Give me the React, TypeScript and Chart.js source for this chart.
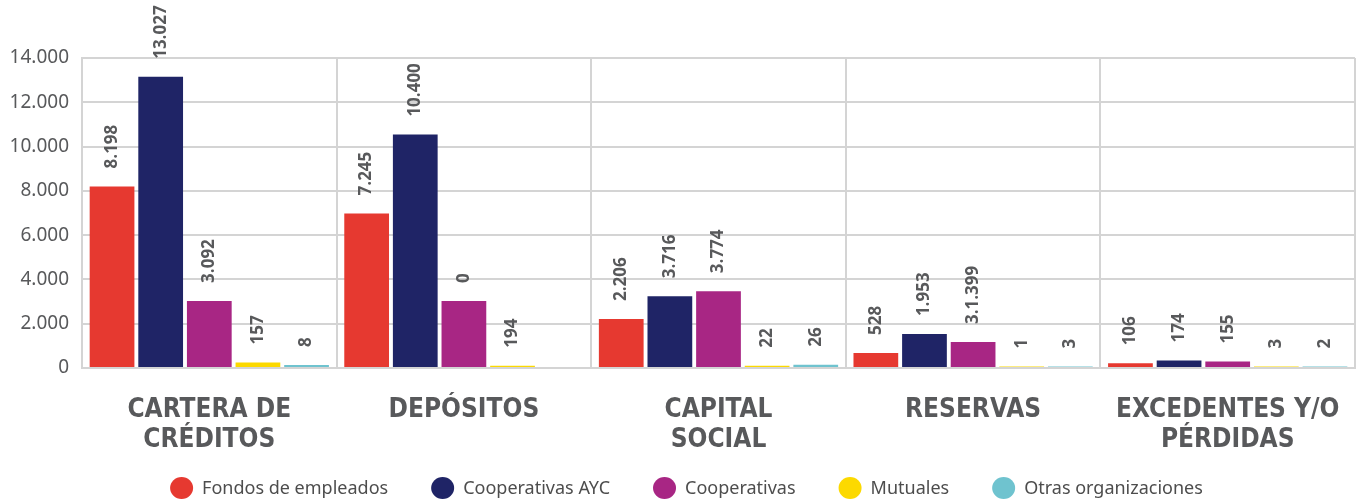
import React, { useEffect, useRef } from "react";
import { Chart, registerables } from "chart.js";

Chart.register(...registerables);

const categories: string[][] = [
  ["CARTERA DE", "CRÉDITOS"],
  ["DEPÓSITOS"],
  ["CAPITAL", "SOCIAL"],
  ["RESERVAS"],
  ["EXCEDENTES Y/O", "PÉRDIDAS"],
];

const seriesNames = [
  "Fondos de empleados",
  "Cooperativas AYC",
  "Cooperativas",
  "Mutuales",
  "Otras organizaciones",
];

// bar heights as drawn in the picture
const fondosValues = [8200, 6980, 2210, 680, 210];
const aycValues = [13150, 10540, 3240, 1530, 340];
const coopValues = [3030, 3030, 3470, 1170, 290];
const mutualesValues = [250, 105, 105, 70, 70];
const otrasValues = [130, 0, 150, 70, 70];

// printed labels above the bars
const fondosLabels = ["8.198", "7.245", "2.206", "528", "106"];
const aycLabels = ["13.027", "10.400", "3.716", "1.953", "174"];
const coopLabels = ["3.092", "0", "3.774", "3.1.399", "155"];
const mutualesLabels = ["157", "194", "22", "1", "3"];
const otrasLabels = ["8", "", "26", "3", "2"];

const yTicks = [0, 2000, 4000, 6000, 8000, 10000, 12000, 14000];

const colors = ["#e63930", "#1f2466", "#a82684", "#fcd900", "#6fc3cf"];

const seriesValues = [fondosValues, aycValues, coopValues, mutualesValues, otrasValues];
const seriesLabels = [fondosLabels, aycLabels, coopLabels, mutualesLabels, otrasLabels];

const fmt = (v: number) => String(v).replace(/\B(?=(\d{3})+(?!\d))/g, ".");

const barLabelPlugin = {
  id: "barLabels",
  afterDatasetsDraw(chart: any) {
    const ctx = chart.ctx;
    ctx.save();
    ctx.font = "bold 17px 'Open Sans'";
    ctx.fillStyle = "#58595b";
    ctx.textAlign = "left";
    ctx.textBaseline = "middle";
    chart.data.datasets.forEach((_ds: any, di: number) => {
      const meta = chart.getDatasetMeta(di);
      const labels = seriesLabels[di];
      meta.data.forEach((el: any, i: number) => {
        const t = labels[i];
        if (!t) return;
        ctx.save();
        ctx.translate(el.x, el.y - 18);
        ctx.rotate(-Math.PI / 2);
        ctx.fillText(t, 0, 0);
        ctx.restore();
      });
    });
    ctx.restore();
  },
};

const legendPlugin = {
  id: "customLegend",
  afterDraw(chart: any) {
    const ctx = chart.ctx;
    ctx.save();
    ctx.font = "18px 'Noto Sans'";
    ctx.textAlign = "left";
    ctx.textBaseline = "middle";
    const rx = 11.5;
    const ry = 11;
    const textGap = 9;
    const itemGap = 43;
    const widths = seriesNames.map((n) => ctx.measureText(n).width);
    const total =
      widths.reduce((a, w) => a + 2 * rx + textGap + w, 0) + itemGap * (seriesNames.length - 1);
    let x = 686.5 - total / 2;
    const y = 488;
    seriesNames.forEach((n, i) => {
      ctx.fillStyle = colors[i];
      ctx.beginPath();
      ctx.ellipse(x + rx, y, rx, ry, 0, 0, Math.PI * 2);
      ctx.fill();
      ctx.fillStyle = "#4d4d4d";
      ctx.fillText(n, x + 2 * rx + textGap, y + 1);
      x += 2 * rx + textGap + widths[i] + itemGap;
    });
    ctx.restore();
  },
};

export default function App() {
  const ref = useRef<HTMLCanvasElement | null>(null);

  useEffect(() => {
    document.body.style.margin = "0";
    if (!ref.current) return;
    const chart = new Chart(ref.current, {
      type: "bar",
      data: {
        labels: categories,
        datasets: seriesNames.map((name, i) => ({
          label: name,
          data: seriesValues[i],
          backgroundColor: colors[i],
          borderWidth: 0,
          categoryPercentage: 0.955,
          barPercentage: 0.92,
        })),
      },
      options: {
        animation: false,
        responsive: true,
        maintainAspectRatio: false,
        layout: { padding: { top: 58, right: 1, left: 0, bottom: 42 } },
        plugins: {
          tooltip: { enabled: false },
          legend: { display: false },
        },
        scales: {
          x: {
            grid: { color: "#d4d4d4", lineWidth: 2, drawTicks: false },
            border: { color: "#d4d4d4", width: 2 },
            ticks: {
              color: "#58595b",
              padding: 27,
              maxRotation: 0,
              autoSkip: false,
              font: { family: "'DejaVu Sans Condensed'", weight: "bold", size: 26, lineHeight: 1.15 },
            },
            afterFit: (scale: any) => {
              scale.height = 90;
              scale.paddingLeft = 0;
              scale.paddingRight = 0;
            },
          },
          y: {
            min: 0,
            max: 14000,
            afterBuildTicks: (scale: any) => {
              scale.ticks = yTicks.map((v) => ({ value: v }));
            },
            grid: { color: "#d4d4d4", lineWidth: 2, drawTicks: false },
            border: { color: "#d4d4d4", width: 2 },
            ticks: {
              color: "#58595b",
              padding: 13,
              font: { family: "'Noto Sans'", size: 19 },
              callback: (v: any) => fmt(Number(v)),
            },
            afterFit: (scale: any) => {
              scale.width = 82;
            },
          },
        },
      },
      plugins: [barLabelPlugin, legendPlugin],
    });
    return () => chart.destroy();
  }, []);

  return (
    <div style={{ width: 1356, height: 500, position: "relative" }}>
      <canvas ref={ref} />
    </div>
  );
}
